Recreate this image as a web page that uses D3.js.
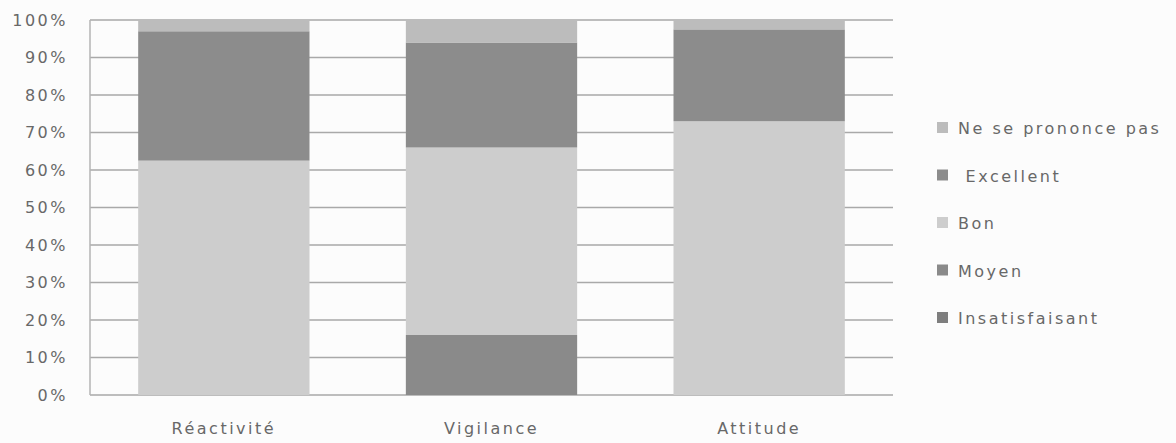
<!DOCTYPE html>
<html>
<head>
<meta charset="utf-8">
<script src="https://cdn.jsdelivr.net/npm/d3@7"></script>
<style>
  body { margin: 0; background: #fcfcfc; }
  text { font-family: "DejaVu Sans", sans-serif; fill: #686868; letter-spacing: 2.5px; white-space: pre; }
</style>
</head>
<body>
<div id="chart"></div>
<script>
// categories on the x axis
var categories = ["Réactivité", "Vigilance", "Attitude"];
// series, bottom to top of each stack (percent of answers)
var seriesNames = ["Insatisfaisant", "Moyen", "Bon", " Excellent", "Ne se prononce pas"];
var insatisfaisant = [0, 0, 0];
var moyen = [0, 16, 0];
var bon = [62.5, 50, 73];
var excellent = [34.5, 28, 24.5];
var nsp = [3, 6, 2.5];
var yTickValues = [0, 10, 20, 30, 40, 50, 60, 70, 80, 90, 100];

var seriesColors = ["#7e7e7e", "#8a8a8a", "#cdcdcd", "#8c8c8c", "#bcbcbc"];

var W = 1176, H = 443;
var margin = {top: 20, right: 283, bottom: 48, left: 90};
var width = W - margin.left - margin.right,
    height = H - margin.top - margin.bottom;

var rows = categories.map(function (c, i) {
  return {
    cat: c,
    s0: insatisfaisant[i], s1: moyen[i], s2: bon[i], s3: excellent[i], s4: nsp[i]
  };
});
var stack = d3.stack().keys(["s0", "s1", "s2", "s3", "s4"]);
var layers = stack(rows);

var svg = d3.select("#chart").append("svg")
    .attr("width", W)
    .attr("height", H)
  .append("g")
    .attr("transform", `translate(${margin.left},${margin.top})`);

var x = d3.scaleBand()
  .domain(categories)
  .range([0, width])
  .paddingInner(0.36)
  .paddingOuter(0.18);

var y = d3.scaleLinear()
  .domain([0, 100])
  .range([height, 0]);

// gridlines
svg.append("g")
  .selectAll("line")
  .data(yTickValues)
  .enter().append("line")
    .attr("x1", 0)
    .attr("x2", width)
    .attr("y1", d => y(d))
    .attr("y2", d => y(d))
    .style("stroke", "#a9a9a9")
    .style("stroke-width", 1.5);

// left axis line
svg.append("line")
  .attr("x1", 0).attr("x2", 0)
  .attr("y1", y(100)).attr("y2", y(0))
  .style("stroke", "#b5b5b5")
  .style("stroke-width", 1.5);

// y tick labels
var yAxis = d3.axisLeft(y)
  .tickValues(yTickValues)
  .tickSize(0)
  .tickPadding(22)
  .tickFormat(d => d + "%");

var yg = svg.append("g").call(yAxis);
yg.select(".domain").remove();
yg.selectAll("text")
  .style("font-size", "16px")
  .style("fill", "#686868")
  .style("font-family", "'DejaVu Sans', sans-serif");

// bars
svg.append("g")
  .selectAll("g")
  .data(layers)
  .enter().append("g")
    .style("fill", (d, i) => seriesColors[i])
  .selectAll("rect")
  .data(d => d)
  .enter().append("rect")
    .attr("x", d => x(d.data.cat))
    .attr("y", d => y(d[1]))
    .attr("width", x.bandwidth())
    .attr("height", d => y(d[0]) - y(d[1]));

// x labels
var xAxis = d3.axisBottom(x).tickSize(0).tickPadding(28);
var xg = svg.append("g")
  .attr("transform", `translate(0,${height})`)
  .call(xAxis);
xg.select(".domain").remove();
xg.selectAll("text")
  .style("font-size", "16px")
  .style("fill", "#686868")
  .style("font-family", "'DejaVu Sans', sans-serif");

// legend, top entry is the top of the stack
var legendData = seriesNames.map((n, i) => ({name: n, color: seriesColors[i]})).reverse();
var legend = svg.selectAll(".legend")
    .data(legendData)
  .enter().append("g")
    .attr("class", "legend")
    .attr("transform", (d, i) => `translate(${width + 44},${108 + i * 47.5})`);

legend.append("rect")
  .attr("x", 0)
  .attr("y", -6)
  .attr("width", 11)
  .attr("height", 11)
  .style("fill", d => d.color);

legend.append("text")
  .attr("x", 21)
  .attr("y", 6)
  .style("font-size", "16px")
  .text(d => d.name);
</script>
</body>
</html>
